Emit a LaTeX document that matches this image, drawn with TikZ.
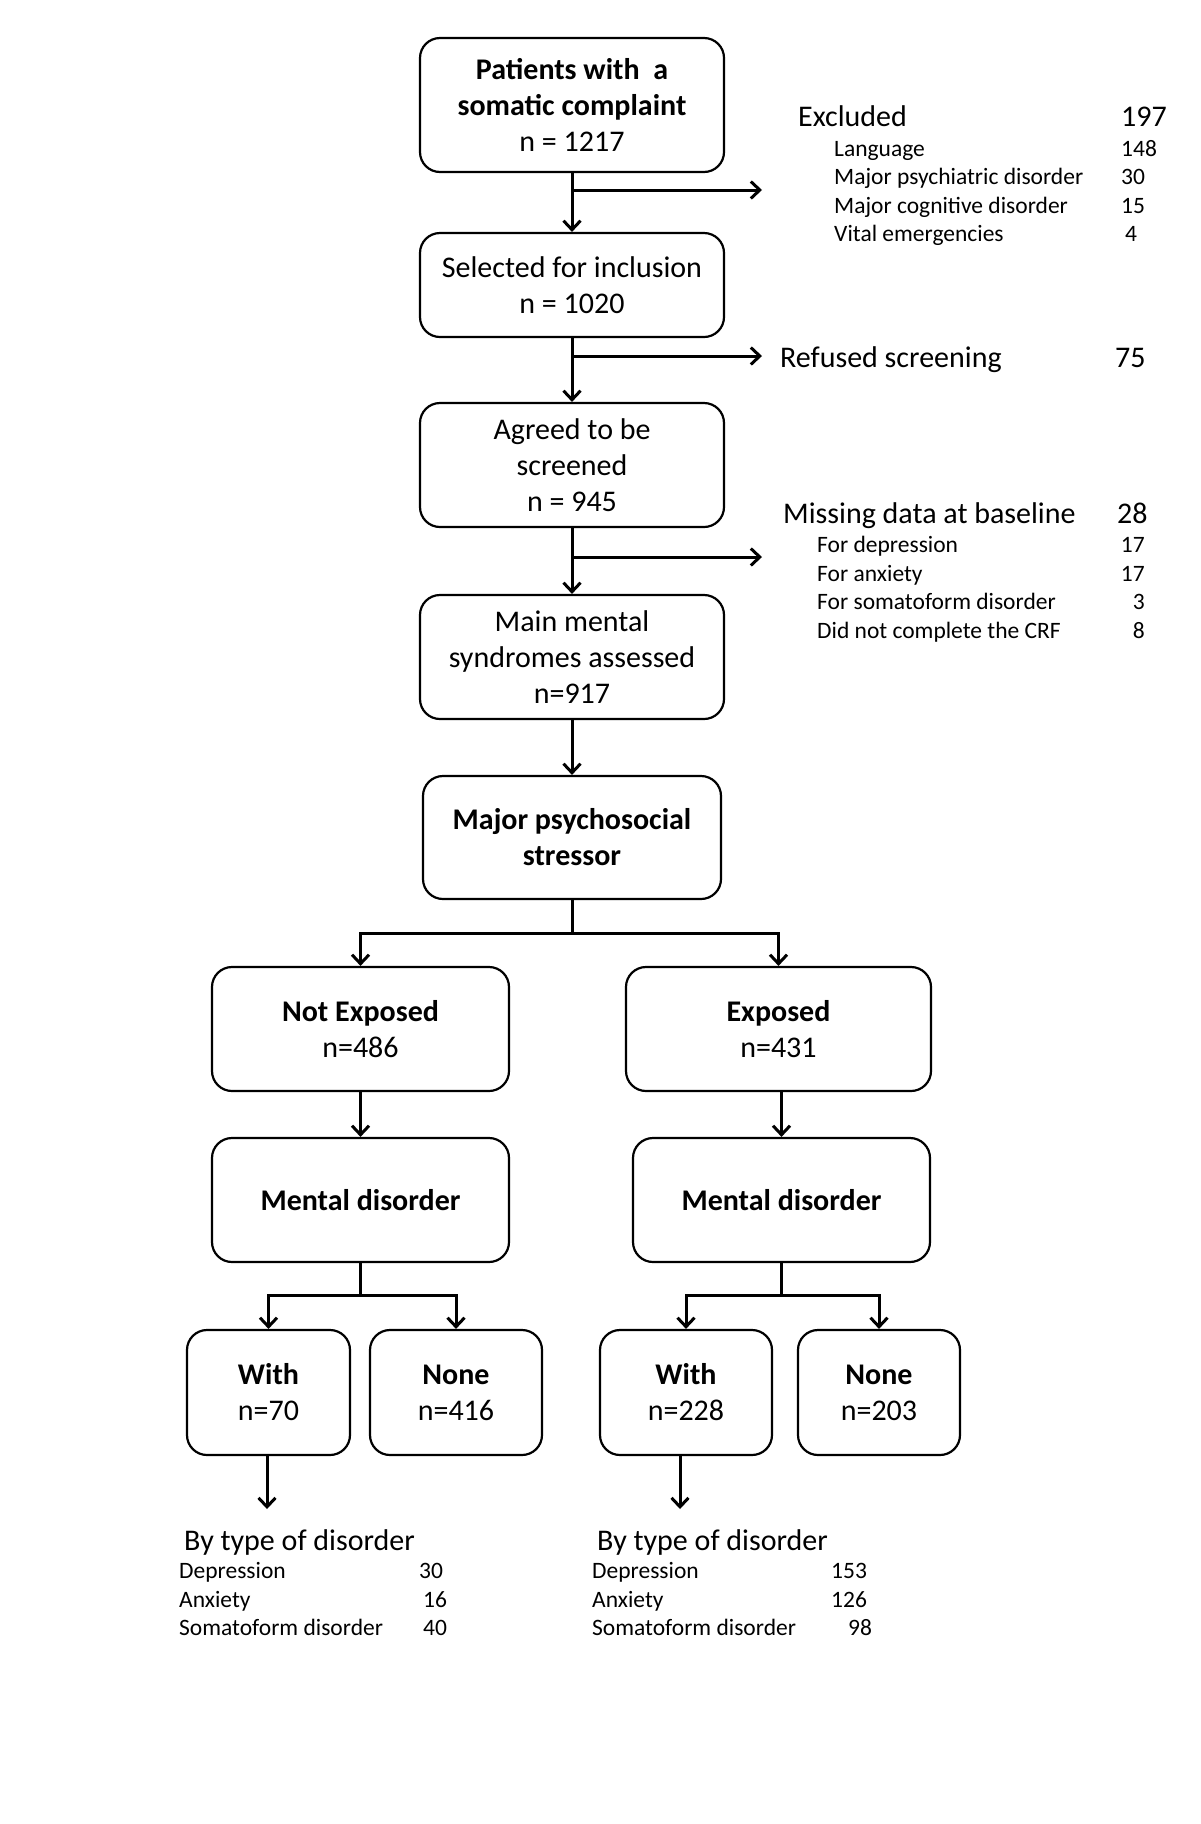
\documentclass[tikz,border=0pt]{standalone}
\usepackage{fontspec}
\setmainfont{Carlito}
\usetikzlibrary{arrows.meta}
\begin{document}
\begin{tikzpicture}[x=1pt,y=-1pt,
  box/.style={draw, line width=2.2pt, rounded corners=20pt, align=center, inner sep=0pt,
    font=\fontsize{30}{36}\selectfont},
  arr/.style={line width=3pt, -{Straight Barb[length=9pt,width=17pt,line width=3pt]}},
  ln/.style={line width=3pt},
  big/.style={anchor=base west, inner sep=0pt, font=\fontsize{30}{36}\selectfont},
  bigr/.style={anchor=base east, inner sep=0pt, font=\fontsize{30}{36}\selectfont},
  sm/.style={anchor=base west, inner sep=0pt, font=\fontsize{23.5}{28}\selectfont},
  smr/.style={anchor=base east, inner sep=0pt, font=\fontsize{23.5}{28}\selectfont}]
\useasboundingbox (0,0) rectangle (1200,1824);

% main column
\node[box, minimum width=304pt, minimum height=134pt] (b1) at (572,105)
  {\textbf{Patients with\ \ a}\\ \textbf{somatic complaint}\\ n = 1217};
\node[box, minimum width=304pt, minimum height=104pt] (b2) at (572,285)
  {Selected for inclusion\\ n = 1020};
\node[box, minimum width=304pt, minimum height=124pt] (b3) at (572,465)
  {Agreed to be\\ screened\\ n = 945};
\node[box, minimum width=304pt, minimum height=124pt] (b4) at (572,657)
  {Main mental\\ syndromes assessed\\ n=917};
\node[box, minimum width=298pt, minimum height=123pt] (b5) at (572,837.5)
  {\textbf{Major psychosocial}\\ \textbf{stressor}};

\node[box, minimum width=297pt, minimum height=124pt] (b6) at (360.5,1029)
  {\textbf{Not Exposed}\\ n=486};
\node[box, minimum width=305pt, minimum height=124pt] (b7) at (778.5,1029)
  {\textbf{Exposed}\\ n=431};
\node[box, minimum width=297pt, minimum height=124pt] (b8) at (360.5,1200)
  {\textbf{Mental disorder}};
\node[box, minimum width=297pt, minimum height=124pt] (b9) at (781.5,1200)
  {\textbf{Mental disorder}};

\node[box, minimum width=163pt, minimum height=125pt] (b10) at (268.5,1392.5)
  {\textbf{With}\\ n=70};
\node[box, minimum width=172pt, minimum height=125pt] (b11) at (456,1392.5)
  {\textbf{None}\\ n=416};
\node[box, minimum width=172pt, minimum height=125pt] (b12) at (686,1392.5)
  {\textbf{With}\\ n=228};
\node[box, minimum width=162pt, minimum height=125pt] (b13) at (879,1392.5)
  {\textbf{None}\\ n=203};

% vertical arrows
\draw[arr] (b1.south) -- (b2.north);
\draw[arr] (b2.south) -- (b3.north);
\draw[arr] (b3.south) -- (b4.north);
\draw[arr] (b4.south) -- (b5.north);
\draw[arr] (b6.south) -- (b6.south |- b8.north);
\draw[arr] (b7.south -| b9.north) -- (b9.north);

% side branches
\coordinate (e1) at (762,190);
\coordinate (e2) at (762,356);
\coordinate (e3) at (762,557);
\draw[arr] (b1.south |- e1) -- (e1);
\draw[arr] (b2.south |- e2) -- (e2);
\draw[arr] (b3.south |- e3) -- (e3);

% splits
\coordinate (j1) at (572,933);
\draw[ln] (b5.south) -- (j1);
\draw[arr] (j1) -| (b6.north);
\draw[arr] (j1) -| (b7.north);

\coordinate (j2) at (360.5,1295);
\draw[ln] (b8.south) -- (j2);
\draw[arr] (j2) -| (b10.north);
\draw[arr] (j2) -| (b11.north);

\coordinate (j3) at (781.5,1295);
\draw[ln] (b9.south) -- (j3);
\draw[arr] (j3) -| (b12.north);
\draw[arr] (j3) -| (b13.north);

% bottom arrows
\coordinate (t1) at (267,1509);
\coordinate (t2) at (680,1509);
\draw[arr] (b10.south -| t1) -- (t1);
\draw[arr] (b12.south -| t2) -- (t2);

% Excluded block
\node[big] (ex) at (798,126) {Excluded};
\node[big] (exn) at (1121,126) {197};
\node[sm] (ex1) at (834,156.5) {Language};
\node[sm] (ex2) at (834,184.5) {Major psychiatric disorder};
\node[sm] (ex3) at (834,213.5) {Major cognitive disorder};
\node[sm] (ex4) at (834,241.5) {Vital emergencies};
\node[sm] (ex1n) at (1121,156.5) {148};
\node[sm] (ex2n) at (1121,184.5) {30};
\node[sm] (ex3n) at (1121,213.5) {15};
\node[sm] (ex4n) at (1125,241.5) {4};

% Refused
\node[big] (rf) at (780,367) {Refused screening};
\node[big] (rfn) at (1115,367) {75};

% Missing
\node[big] (ms) at (783,523) {Missing data at baseline};
\node[big] (msn) at (1117,523) {28};
\node[sm] (ms1) at (817,552.5) {For depression};
\node[sm] (ms2) at (817,581.5) {For anxiety};
\node[sm] (ms3) at (817,609.5) {For somatoform disorder};
\node[sm] (ms4) at (817,638.5) {Did not complete the CRF};
\node[smr] (ms1n) at (1145,552.5) {17};
\node[smr] (ms2n) at (1145,581.5) {17};
\node[smr] (ms3n) at (1145,609.5) {3};
\node[smr] (ms4n) at (1145,638.5) {8};

% bottom left list
\node[big] (bl) at (184,1550) {By type of disorder};
\node[sm] (bl1) at (179,1578.5) {Depression};
\node[sm] (bl2) at (179,1607.5) {Anxiety};
\node[sm] (bl3) at (179,1635.5) {Somatoform disorder};
\node[sm] (bl1n) at (419,1578.5) {30};
\node[sm] (bl2n) at (423,1607.5) {16};
\node[sm] (bl3n) at (423,1635.5) {40};

% bottom right list
\node[big] (br) at (597,1550) {By type of disorder};
\node[sm] (br1) at (592,1578.5) {Depression};
\node[sm] (br2) at (592,1607.5) {Anxiety};
\node[sm] (br3) at (592,1635.5) {Somatoform disorder};
\node[sm] (br1n) at (831,1578.5) {153};
\node[sm] (br2n) at (831,1607.5) {126};
\node[sm] (br3n) at (848,1635.5) {98};
\end{tikzpicture}
\end{document}
